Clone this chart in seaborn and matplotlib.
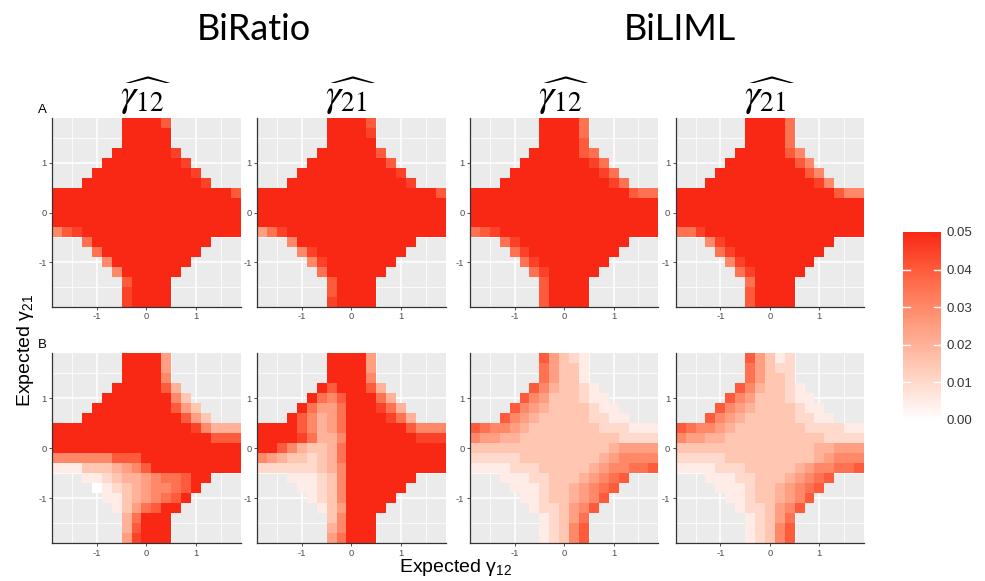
import numpy as np
import pandas as pd
import matplotlib
matplotlib.use("Agg")
import matplotlib.pyplot as plt
import seaborn as sns
from matplotlib.colors import LinearSegmentedColormap

plt.rcParams["font.family"] = ["Liberation Sans", "DejaVu Sans"]
plt.rcParams["mathtext.fontset"] = "custom"
plt.rcParams["mathtext.rm"] = "Liberation Sans"
plt.rcParams["mathtext.it"] = "Liberation Sans:italic"

# grid of simulated parameter values (cell centres)
GAMMA_12 = [-1.8, -1.6, -1.4, -1.2, -1.0, -0.8, -0.6, -0.4, -0.2, 0.0,
            0.2, 0.4, 0.6, 0.8, 1.0, 1.2, 1.4, 1.6, 1.8]
GAMMA_21 = GAMMA_12[::-1]  # rows run top to bottom

# rejection rate per cell, rows from gamma21 = 1.8 down to -1.8
# '.' = not simulated, '0'-'9' = steps of 0.005, '#' = 0.05 or more
A_BIRATIO_G12 = [
    ".......####8.......",
    ".......#####.......",
    ".......#####.......",
    "......######9......",
    ".....########9.....",
    "....##########9....",
    "...############9...",
    "##################8",
    "###################",
    "###################",
    "###################",
    "689################",
    "...7############...",
    "....7##########....",
    ".....6########.....",
    "......6######......",
    ".......8####.......",
    ".......9####.......",
    ".......9####.......",
]
A_BIRATIO_G21 = [
    ".......####8.......",
    ".......####9.......",
    ".......#####.......",
    "......######8......",
    ".....########8.....",
    "....##########9....",
    "...############9...",
    "##################8",
    "###################",
    "###################",
    "###################",
    "579################",
    "...6############...",
    "....69#########....",
    ".....69#######.....",
    "......7######......",
    ".......8####.......",
    ".......8####.......",
    ".......9####.......",
]
A_BILIML_G12 = [
    ".......####7.......",
    ".......####7.......",
    ".......####8.......",
    "......#####87......",
    ".....#######97.....",
    "....#########97....",
    "...###########97...",
    "################877",
    "###################",
    "###################",
    "###################",
    "789################",
    "...79###########...",
    "....79#########....",
    ".....79#######.....",
    "......79#####......",
    ".......8####.......",
    ".......8####.......",
    ".......8####.......",
]
A_BILIML_G21 = [
    ".......####7.......",
    ".......####7.......",
    ".......####7.......",
    "......#####86......",
    ".....#######86.....",
    "....#########86....",
    "...###########96...",
    "################866",
    "###################",
    "###################",
    "###################",
    "779################",
    "...69###########...",
    "....79#########....",
    ".....69#######.....",
    "......79#####......",
    ".......7####.......",
    ".......8####.......",
    ".......8####.......",
]
B_BIRATIO_G12 = [
    ".......####5.......",
    ".......####5.......",
    ".......####6.......",
    "......#####84......",
    ".....#######63.....",
    "....########853....",
    "...##########853...",
    "##############96444",
    "################888",
    "###################",
    "666666888##########",
    "1113334568#########",
    "...11234456778##...",
    "....0123456678#....",
    ".....11345678#.....",
    "......13578##......",
    ".......47###.......",
    ".......48###.......",
    ".......59###.......",
]
B_BIRATIO_G21 = [
    ".......####5.......",
    ".......####5.......",
    ".......####6.......",
    "......#8###84......",
    ".....#768###74.....",
    "....#7557###974....",
    "...#86457####974...",
    "####86457######8666",
    "####97446#######999",
    "##8643347##########",
    "654332347##########",
    "222222346##########",
    "...111236#######...",
    "....11236######....",
    ".....1236#####.....",
    "......135####......",
    ".......36###.......",
    ".......46###.......",
    ".......57###.......",
]
B_BILIML_G12 = [
    ".......85321.......",
    ".......75331.......",
    ".......75331.......",
    "......8643321......",
    ".....865333211.....",
    "....86543333211....",
    "...8654333332211...",
    "8766543333333222111",
    "6554433333333332222",
    "3333333333333345555",
    "2222233333333456666",
    "1111222333334566778",
    "...1112233345678...",
    "....11123345678....",
    ".....112334568.....",
    "......1223568......",
    ".......12357.......",
    ".......12368.......",
    ".......12368.......",
]
B_BILIML_G21 = [
    ".......85312.......",
    ".......75322.......",
    ".......75332.......",
    "......8643321......",
    ".....865333211.....",
    "....86543333211....",
    "...8654333332211...",
    "8766543333333222211",
    "6554433333333332222",
    "3333333333333344555",
    "2222233333333345666",
    "1111222333334566778",
    "...1112233345678...",
    "....11123345678....",
    ".....112334568.....",
    "......1223568......",
    ".......12357.......",
    ".......12368.......",
    ".......12368.......",
]

ROW_TAGS = ["A", "B"]
METHODS = ["BiRatio", "BiLIML"]
HEADERS = [r"$\widehat{\gamma_{12}}$", r"$\widehat{\gamma_{21}}$",
           r"$\widehat{\gamma_{12}}$", r"$\widehat{\gamma_{21}}$"]
PANELS = [
    [A_BIRATIO_G12, A_BIRATIO_G21, A_BILIML_G12, A_BILIML_G21],
    [B_BIRATIO_G12, B_BIRATIO_G21, B_BILIML_G12, B_BILIML_G21],
]
AXIS_TICKS = [-1, 0, 1]
MINOR_TICKS = [-1.5, -0.5, 0.5, 1.5]
CBAR_TICKS = [0.00, 0.01, 0.02, 0.03, 0.04, 0.05]


def to_frame(rows):
    vals = [[np.nan if ch == "." else (0.05 if ch == "#" else int(ch) * 0.005)
             for ch in row] for row in rows]
    return pd.DataFrame(vals, index=GAMMA_21, columns=GAMMA_12)


# heatmap axes are categorical, map gamma values onto cell positions
cell_pos = np.arange(len(GAMMA_12)) + 0.5
def xpos(v):
    return np.interp(v, GAMMA_12, cell_pos)
def ypos(v):
    return np.interp(v, GAMMA_12, cell_pos[::-1])


# white -> red, roughly the Lab blend ggplot uses
cmap = LinearSegmentedColormap.from_list(
    "wr", ["#FFFFFF", "#FFCFBE", "#FF9E81", "#FF6846", "#F92814"])

W, H = 985, 581
fig = plt.figure(figsize=(W / 100, H / 100), dpi=100)

col_left = [52.3, 257.3, 470.0, 675.7]
panel_w = 188.3
row_top = [118.3, 353.3]
row_bot = [306.7, 543.3]

mesh = None
for r in range(2):
    for c in range(4):
        ax = fig.add_axes([col_left[c] / W, 1 - row_bot[r] / H,
                           panel_w / W, (row_bot[r] - row_top[r]) / H])
        ax.set_facecolor("#EBEBEB")
        sns.heatmap(to_frame(PANELS[r][c]), ax=ax, cmap=cmap, vmin=0, vmax=0.05,
                    cbar=False, xticklabels=False, yticklabels=False)
        mesh = ax.collections[0]

        ax.set_xticks(xpos(AXIS_TICKS))
        ax.set_xticklabels([str(t) for t in AXIS_TICKS], rotation=0)
        ax.set_yticks(ypos(AXIS_TICKS))
        ax.set_yticklabels([str(t) for t in AXIS_TICKS], rotation=0)
        ax.set_xticks(xpos(MINOR_TICKS), minor=True)
        ax.set_yticks(ypos(MINOR_TICKS), minor=True)
        ax.grid(which="major", color="white", lw=1.1)
        ax.grid(which="minor", color="white", lw=0.55)
        ax.set_axisbelow(True)
        ax.set_xlabel("")
        ax.set_ylabel("")
        ax.tick_params(which="major", length=2.5, width=0.6, color="#333333",
                       labelsize=6.8, labelcolor="#4D4D4D", pad=1.5)
        ax.tick_params(which="minor", length=0)
        for s in ["left", "bottom"]:
            ax.spines[s].set_visible(True)
            ax.spines[s].set_color("#333333")
            ax.spines[s].set_linewidth(0.9)

        if r == 0:
            fig.text((col_left[c] + panel_w / 2) / W, 1 - 96 / H, HEADERS[c],
                     ha="center", va="center", fontsize=28, math_fontfamily="stix")

    fig.text(38 / W, 1 - (row_top[r] - 8) / H, ROW_TAGS[r],
             ha="left", va="center", fontsize=9.5)

fig.text(254 / W, 1 - 30 / H, METHODS[0], ha="center", va="center",
         fontsize=26, family="Lato")
fig.text(680 / W, 1 - 30 / H, METHODS[1], ha="center", va="center",
         fontsize=26, family="Lato")

fig.text(456 / W, 1 - 568 / H, "Expected γ$_{12}$", ha="center", va="center",
         fontsize=14)
fig.text(25 / W, 1 - 350 / H, "Expected γ$_{21}$", ha="center", va="center",
         fontsize=14, rotation=90)

# colour bar
cax = fig.add_axes([903.3 / W, 1 - 420 / H, 37.7 / W, 188 / H])
cb = fig.colorbar(mesh, cax=cax)
cb.outline.set_visible(False)
cb.set_ticks(CBAR_TICKS)
cb.ax.set_yticklabels([f"{t:.2f}" for t in CBAR_TICKS])
cb.ax.tick_params(length=0, labelsize=9.5, pad=4, labelcolor="#333333")
for t in CBAR_TICKS[1:-1]:
    cax.plot([0, 0.18], [t, t], transform=cax.get_yaxis_transform(), color="white", lw=1)
    cax.plot([0.82, 1], [t, t], transform=cax.get_yaxis_transform(), color="white", lw=1)

fig.savefig("out.png", dpi=100)
